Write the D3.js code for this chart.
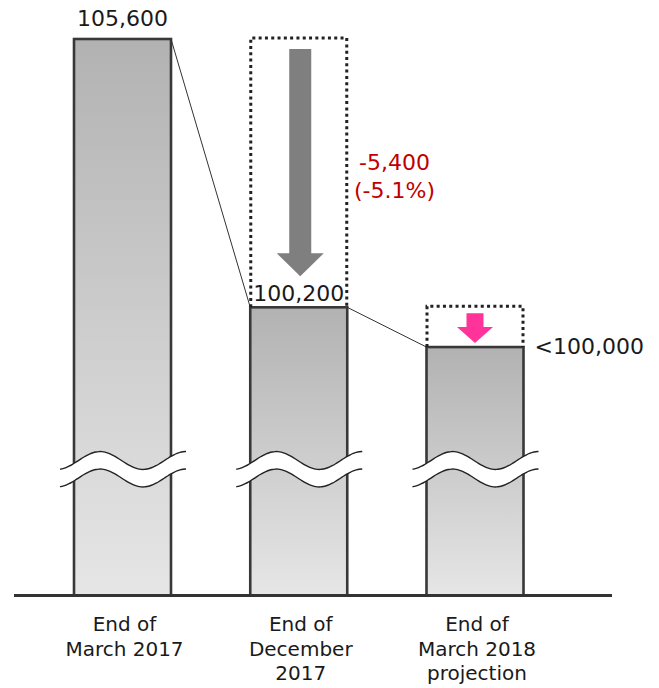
<!DOCTYPE html>
<html>
<head>
<meta charset="utf-8">
<script src="https://cdn.jsdelivr.net/npm/d3@7"></script>
<style>
  html, body { margin: 0; padding: 0; background: #fff; }
  svg { display: block; font-family: "DejaVu Sans", Verdana, sans-serif; }
</style>
</head>
<body>
<svg id="svg" width="659" height="688"></svg>
<script>
// chart data
var categories = [
  ["End of", "March 2017"],
  ["End of", "December", "2017"],
  ["End of", "March 2018", "projection"]
];
var values = [105600, 100200, 99400];           // bar heights
var valueLabels = ["105,600", "100,200", "<100,000"];
var changeLabels = ["-5,400", "(-5.1%)"];

var BarChart = (function(d3) {
  var BarChart = function() {
    this.svg = d3.select("#svg");
    this.width = 659;
    this.height = 688;
    this.baseY = 595.5;
    this.barWidth = 97;
    // axis is broken, so the domain does not start at zero
    this.y = d3.scaleLinear().domain([94400, 105600]).range([this.baseY, 39]);
    this.x = d3.scalePoint().domain(d3.range(values.length)).range([122.5, 475]);
  };

  BarChart.prototype = {
    constructor: BarChart,

    draw: function() {
      this._defs();
      this._drawBars();
      this._drawBreaks();
      this._drawConnectors();
      this._drawChangeBoxes();
      this._drawLabels();
      this._drawAxis();
    },

    _defs: function() {
      var grad = this.svg.append("defs").append("linearGradient")
        .attr("id", "barGrad")
        .attr("x1", 0).attr("y1", 0).attr("x2", 0).attr("y2", 1);
      grad.append("stop").attr("offset", "0%").attr("stop-color", "#b2b2b2");
      grad.append("stop").attr("offset", "100%").attr("stop-color", "#e6e6e6");
    },

    _drawBars: function() {
      var self = this;
      this.svg.append("g").selectAll("rect")
        .data(values)
        .join("rect")
        .attr("x", (d, i) => self.x(i) - self.barWidth / 2)
        .attr("y", d => self.y(d))
        .attr("width", self.barWidth)
        .attr("height", d => self.baseY - self.y(d))
        .attr("fill", "url(#barGrad)")
        .attr("stroke", "#383838")
        .attr("stroke-width", 2.6);
    },

    _drawBreaks: function() {
      var self = this;
      var yc = 460.5, amp = 9, period = 86, gap = 17.5;
      var line = d3.line().curve(d3.curveBasis);
      var g = this.svg.append("g");
      values.forEach(function(d, i) {
        var x0 = self.x(i) - self.barWidth / 2 - 14;
        var top = [], bottom = [];
        for (var t = 0; t <= 126; t += 3) {
          var yy = yc - amp * Math.cos(2 * Math.PI * (t - 40) / period);
          top.push([x0 + t, yy]);
          bottom.push([x0 + t, yy + gap]);
        }
        g.append("path")
          .attr("d", "M" + top.concat(bottom.slice().reverse()).join("L") + "Z")
          .attr("fill", "#fff");
        g.append("path").attr("d", line(top))
          .attr("fill", "none").attr("stroke", "#222").attr("stroke-width", 1.4);
        g.append("path").attr("d", line(bottom))
          .attr("fill", "none").attr("stroke", "#222").attr("stroke-width", 1.4);
      });
    },

    _drawConnectors: function() {
      var self = this;
      var g = this.svg.append("g");
      for (var i = 0; i < values.length - 1; i++) {
        g.append("line")
          .attr("x1", self.x(i) + self.barWidth / 2)
          .attr("y1", self.y(values[i]))
          .attr("x2", self.x(i + 1) - self.barWidth / 2)
          .attr("y2", self.y(values[i + 1]))
          .attr("stroke", "#333")
          .attr("stroke-width", 1);
      }
    },

    _arrow: function(cx, y0, yt, shaft, head, headLen) {
      var yh = yt - headLen;
      return [
        [cx - shaft, y0], [cx + shaft, y0], [cx + shaft, yh], [cx + head, yh],
        [cx, yt], [cx - head, yh], [cx - shaft, yh]
      ];
    },

    _drawChangeBoxes: function() {
      var self = this;
      var g = this.svg.append("g");
      // dotted boxes from previous value down to current value
      for (var i = 1; i < values.length; i++) {
        var x0 = self.x(i) - self.barWidth / 2 + 0.5;
        g.append("path")
          .attr("d", "M" + x0 + "," + self.y(values[i]) +
                     "V" + (self.y(values[i - 1]) - 1) +
                     "H" + (x0 + self.barWidth - 1) +
                     "V" + self.y(values[i]))
          .attr("fill", "none")
          .attr("stroke", "#222")
          .attr("stroke-width", 3)
          .attr("stroke-dasharray", "3,3.3");
      }
      // grey arrow: actual decrease
      var a1 = this._arrow(self.x(1) + 1.5, self.y(values[0]) + 10, self.y(values[1]) - 31, 11, 23.5, 23);
      g.append("polygon").attr("points", a1.join(" ")).attr("fill", "#7f7f7f");
      // pink arrow: projected decrease
      var a2 = this._arrow(self.x(2), self.y(values[1]) + 6, self.y(values[2]) - 4, 8.5, 18, 16);
      g.append("polygon").attr("points", a2.join(" ")).attr("fill", "#ff3399");

      g.append("text")
        .attr("x", 394.5)
        .attr("y", 170)
        .attr("text-anchor", "middle")
        .attr("font-size", 22)
        .attr("fill", "#c00000")
        .selectAll("tspan")
        .data(changeLabels)
        .join("tspan")
        .attr("x", 394.5)
        .attr("dy", (d, i) => i ? 28 : 0)
        .text(d => d);
    },

    _drawLabels: function() {
      var self = this;
      var g = this.svg.append("g").attr("font-size", 22).attr("fill", "#1a1a1a");
      g.append("text").attr("x", self.x(0)).attr("y", self.y(values[0]) - 13)
        .attr("text-anchor", "middle").text(valueLabels[0]);
      g.append("text").attr("x", self.x(1)).attr("y", self.y(values[1]) - 6)
        .attr("text-anchor", "middle").text(valueLabels[1]);
      g.append("text").attr("x", self.x(2) + self.barWidth / 2 + 11).attr("y", self.y(values[2]) + 7)
        .attr("text-anchor", "start").text(valueLabels[2]);
    },

    _drawAxis: function() {
      var self = this;
      this.svg.append("line")
        .attr("x1", 14).attr("x2", 612)
        .attr("y1", this.baseY).attr("y2", this.baseY)
        .attr("stroke", "#333")
        .attr("stroke-width", 3);

      this.svg.append("g")
        .attr("font-size", 20)
        .attr("fill", "#1a1a1a")
        .selectAll("text")
        .data(categories)
        .join("text")
        .attr("text-anchor", "middle")
        .attr("y", 631)
        .each(function(lines, i) {
          d3.select(this).selectAll("tspan")
            .data(lines)
            .join("tspan")
            .attr("x", self.x(i) + 2)
            .attr("dy", (d, j) => j ? 24.5 : 0)
            .text(d => d);
        });
    }
  };

  return BarChart;
})(d3);

new BarChart().draw();
</script>
</body>
</html>
